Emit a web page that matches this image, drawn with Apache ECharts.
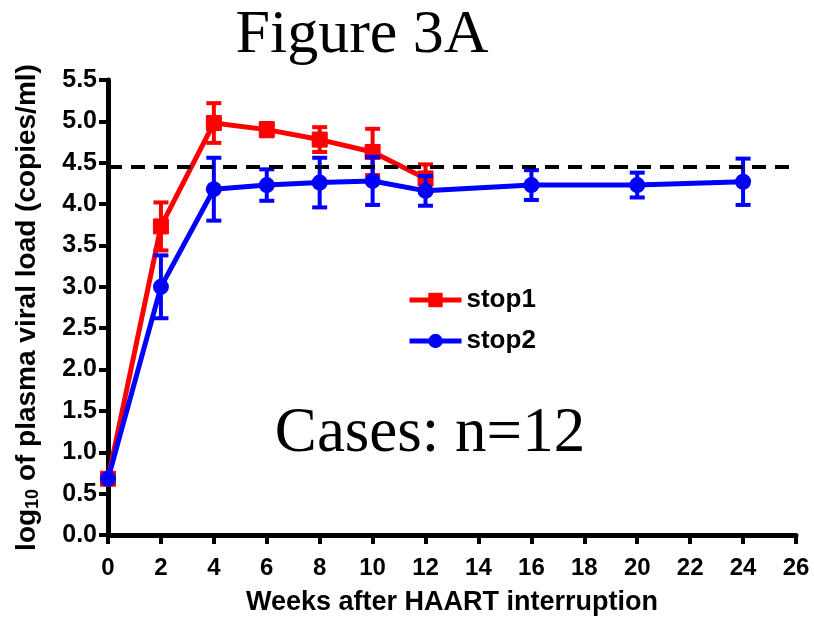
<!DOCTYPE html>
<html>
<head>
<meta charset="utf-8">
<script src="https://cdn.jsdelivr.net/npm/echarts@6/dist/echarts.min.js"></script>
<style>
html,body{margin:0;padding:0;background:#fff;}
#c{width:814px;height:624px;}
</style>
</head>
<body>
<div id="c"></div>
<script>
var xTicks = [0,2,4,6,8,10,12,14,16,18,20,22,24,26];
var yTicks = [0,0.5,1,1.5,2,2.5,3,3.5,4,4.5,5,5.5];
var weeks1 = [0,2,4,6,8,10,12];
var stop1 = [0.68,3.73,4.98,4.90,4.78,4.63,4.31];
var stop1Err = [0,0.29,0.24,0.08,0.15,0.28,0.17];
var weeks2 = [0,2,4,6,8,10,12,16,20,24];
var stop2 = [0.68,3.00,4.18,4.23,4.26,4.28,4.16,4.23,4.23,4.27];
var stop2Err = [0,0.38,0.38,0.19,0.30,0.29,0.18,0.18,0.15,0.28];
var threshold = 4.45;

function pts(w,v){return w.map(function(x,i){return [x,v[i]];});}
function errs(w,v,e){return w.map(function(x,i){return [x,v[i]-e[i],v[i]+e[i]];});}
function errRender(color){
  return function(params, api){
    var x = api.value(0), lo = api.value(1), hi = api.value(2);
    if (hi - lo < 1e-6) return {type:'group', children:[]};
    var p1 = api.coord([x, lo]), p2 = api.coord([x, hi]);
    var hw = 7.5;
    var st = {stroke: color, lineWidth: 4};
    return {type:'group', children:[
      {type:'line', shape:{x1:p1[0],y1:p1[1],x2:p2[0],y2:p2[1]}, style:st},
      {type:'line', shape:{x1:p1[0]-hw,y1:p1[1],x2:p1[0]+hw,y2:p1[1]}, style:st},
      {type:'line', shape:{x1:p2[0]-hw,y1:p2[1],x2:p2[0]+hw,y2:p2[1]}, style:st}
    ]};
  };
}

var chart = echarts.init(document.getElementById('c'));
chart.setOption({
  animation:false,
  backgroundColor:'#fff',
  grid:{left:108, right:18, top:80, bottom:89, containLabel:false},
  graphic:[
    {type:'text', x:362, y:36, style:{text:'Figure 3A', fontFamily:'Liberation Serif', fontSize:62, fill:'#000', textAlign:'center', textVerticalAlign:'middle'}},
    {type:'text', x:430, y:434, style:{text:'Cases: n=12', fontFamily:'Liberation Serif', fontSize:63, fill:'#000', textAlign:'center', textVerticalAlign:'middle'}}
  ],
  legend:{
    orient:'vertical', left:407, top:287, padding:0, itemWidth:52, itemHeight:18, itemGap:15,
    data:['stop1','stop2'],
    lineStyle:{width:5},
    textStyle:{fontFamily:'Liberation Sans', fontWeight:'bold', fontSize:26, color:'#000'}
  },
  xAxis:{
    type:'value', min:0, max:26, interval:2,
    name:'Weeks after HAART interruption', nameLocation:'middle', nameGap:54,
    nameTextStyle:{fontFamily:'Liberation Sans', fontWeight:'bold', fontSize:27, color:'#000'},
    axisLine:{show:true, lineStyle:{color:'#000', width:5}},
    axisTick:{show:true, inside:false, length:9, lineStyle:{color:'#000', width:4}},
    axisLabel:{margin:21, fontFamily:'Liberation Sans', fontWeight:'bold', fontSize:24, color:'#000',
      customValues: xTicks},
    splitLine:{show:false}
  },
  yAxis:{
    type:'value', min:0, max:5.5, interval:0.5,
    name:'{a|log}{s|10}{a| of plasma viral load (copies/ml)}', nameLocation:'middle', nameGap:66,
    nameTextStyle:{rich:{
      a:{fontFamily:'Liberation Sans', fontWeight:'bold', fontSize:28, color:'#000'},
      s:{fontFamily:'Liberation Sans', fontWeight:'bold', fontSize:18, color:'#000', padding:[12,0,0,0]}
    }},
    axisLine:{show:true, lineStyle:{color:'#000', width:5}},
    axisTick:{show:true, inside:false, length:9, lineStyle:{color:'#000', width:4}},
    axisLabel:{margin:11, fontFamily:'Liberation Sans', fontWeight:'bold', fontSize:25, color:'#000',
      formatter:function(v){return v.toFixed(1);}},
    splitLine:{show:false}
  },
  series:[
    {type:'custom', name:'stop1err', z:2, renderItem:errRender('#ff0000'), data:errs(weeks1,stop1,stop1Err), encode:{x:0,y:[1,2]}, silent:true},
    {type:'line', name:'stop1', z:3, data:pts(weeks1,stop1), symbol:'rect', symbolSize:15,
      lineStyle:{color:'#ff0000', width:5}, itemStyle:{color:'#ff0000', borderColor:'#ff0000'},
      markLine:{silent:true, symbol:'none', label:{show:false},
        lineStyle:{color:'#000', width:4, type:[14,9]}, data:[{yAxis:threshold}]}},
    {type:'custom', name:'stop2err', z:4, renderItem:errRender('#0000ff'), data:errs(weeks2,stop2,stop2Err), encode:{x:0,y:[1,2]}, silent:true},
    {type:'line', name:'stop2', z:5, data:pts(weeks2,stop2), symbol:'circle', symbolSize:16,
      lineStyle:{color:'#0000ff', width:5}, itemStyle:{color:'#0000ff'}}
  ]
});
</script>
</body>
</html>
